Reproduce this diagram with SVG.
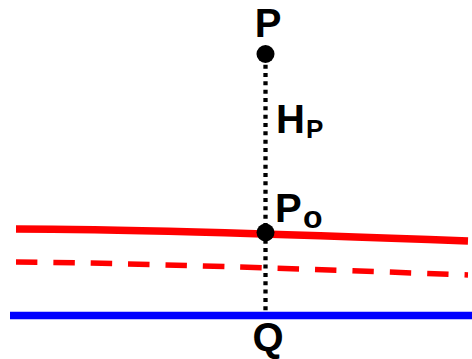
<svg xmlns="http://www.w3.org/2000/svg" width="472" height="359" viewBox="0 0 472 359">
<style>
.lbl{font-family:"Liberation Sans",Arial,sans-serif;font-weight:bold;fill:#000}
.main{font-size:40px}
.sub{font-size:26px}
.subo{font-size:32px}
.dot{fill:#000}
</style>
<rect width="472" height="359" fill="#fff"/>
<g id="connectors">
<path id="water-solid" d="M16,229 Q150,229 468,241" fill="none" stroke="#ff0000" stroke-width="7.5"/>
<path id="water-dashed" d="M16,262 Q150,263 468,275" fill="none" stroke="#ff0000" stroke-width="5.5" stroke-dasharray="21.5 15.9"/>
<line id="ground" x1="10" y1="315.5" x2="472" y2="315.5" stroke="#0000ff" stroke-width="7.5"/>
<line id="height" x1="265.5" y1="64.7" x2="265.5" y2="311" stroke="#000" stroke-width="4.3" stroke-dasharray="4 4.33"/>
</g>
<g id="node-P">
<circle class="dot" cx="265.5" cy="54" r="9"/>
<text class="lbl main" x="268" y="37" text-anchor="middle">P</text>
</g>
<g id="label-HP">
<text class="lbl main" x="276" y="132.5">H<tspan class="sub" x="306" y="138">P</tspan></text>
</g>
<g id="node-P0">
<circle class="dot" cx="265.5" cy="232.5" r="9"/>
<text class="lbl main" x="275" y="221.5">P<tspan class="subo" x="303" y="227.5">o</tspan></text>
</g>
<g id="node-Q">
<text class="lbl main" x="268" y="351" text-anchor="middle">Q</text>
</g>
</svg>
